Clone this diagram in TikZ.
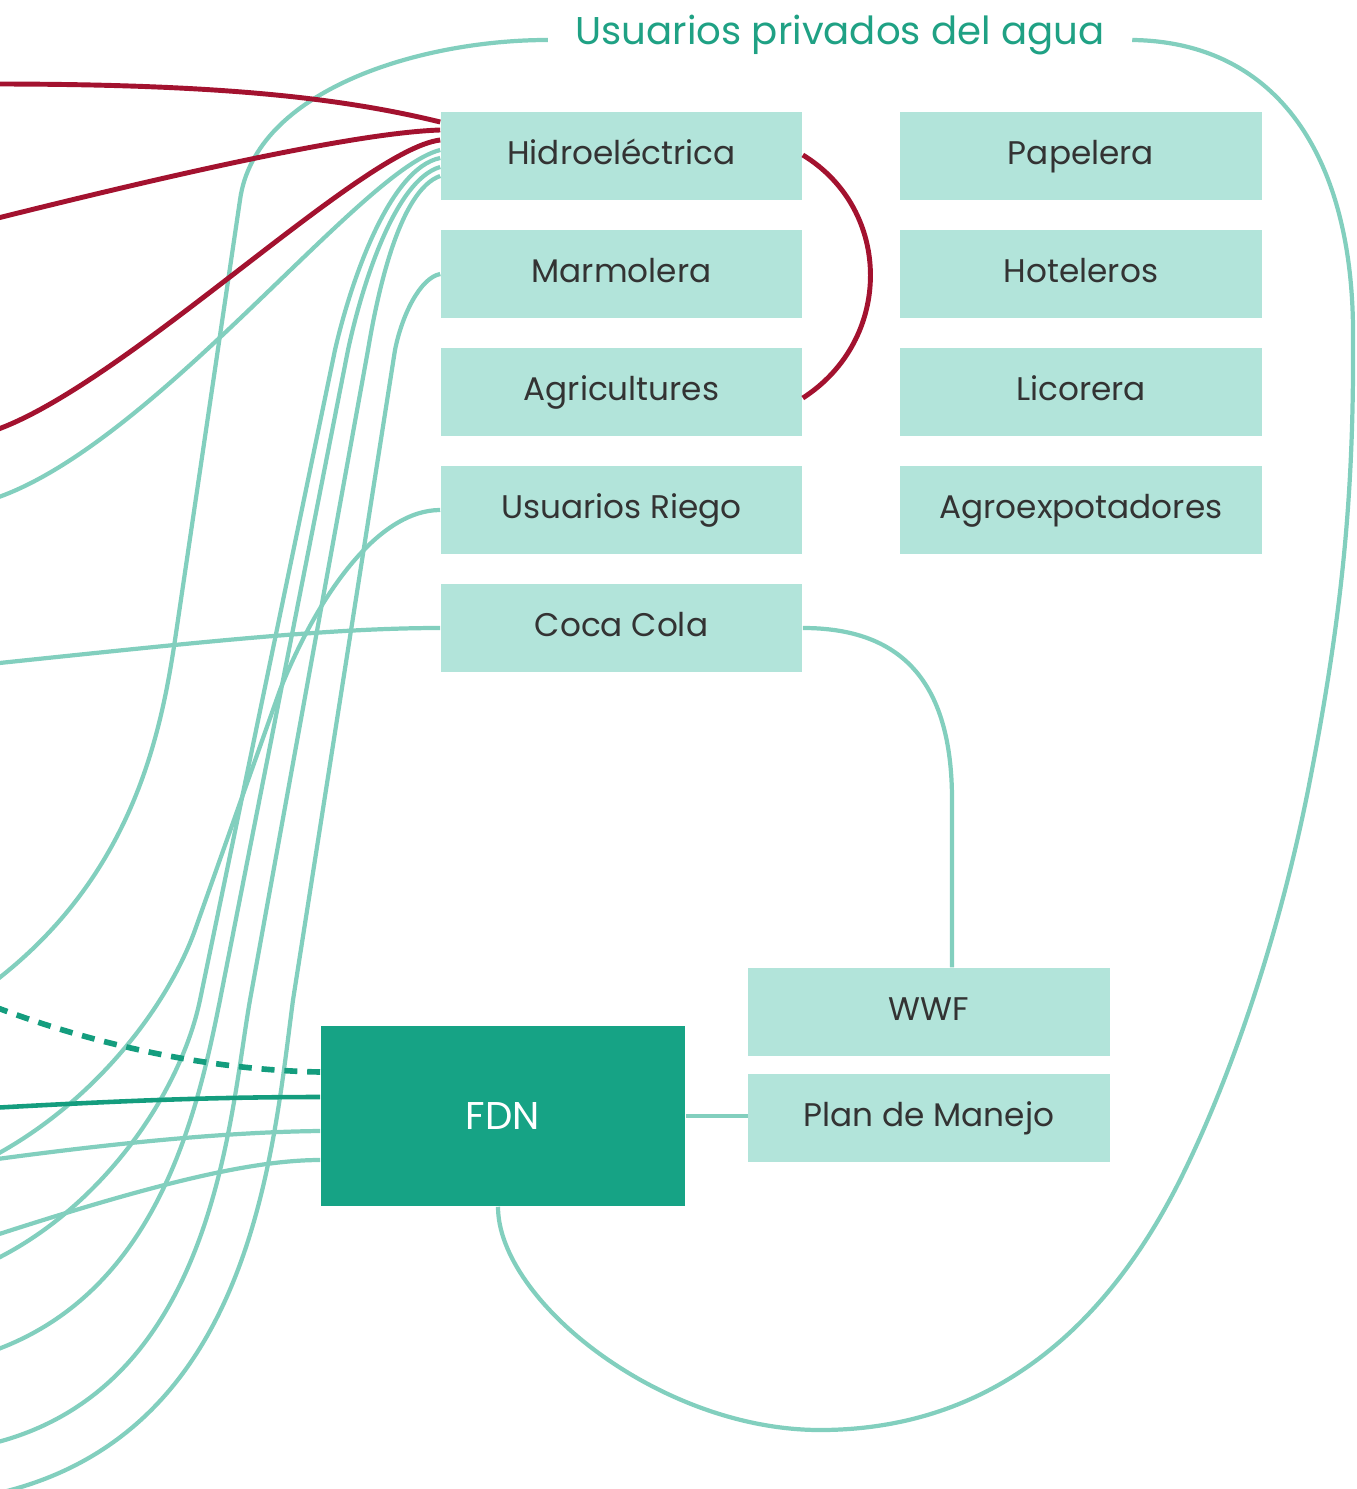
\documentclass[tikz,border=0pt]{standalone}
\usepackage{fontspec}
\setmainfont{Poppins}
\usetikzlibrary{calc}

\definecolor{boxteal}{HTML}{B2E4DA}
\definecolor{fdnteal}{HTML}{16A385}
\definecolor{lineteal}{HTML}{82CFBE}
\definecolor{darkteal}{HTML}{149D7E}
\definecolor{titleteal}{HTML}{1FA184}
\definecolor{linered}{HTML}{A3122F}
\definecolor{labelgray}{HTML}{333333}

\begin{document}
\begin{tikzpicture}[x=0.01cm, y=-0.01cm,
	user/.style={fill=boxteal, minimum width=3.61cm, minimum height=0.88cm, inner sep=0pt, text=labelgray, text height=6.8pt, text depth=2pt, font=\fontsize{9.3}{11}\selectfont},
	fdnbox/.style={fill=fdnteal, minimum width=3.64cm, minimum height=1.8cm, inner sep=0pt, text=white, font=\fontsize{11}{13}\selectfont},
	link/.style={lineteal, line width=1.2pt},
	redlink/.style={linered, line width=1.4pt},
	darklink/.style={darkteal, line width=1.3pt}]

	\useasboundingbox (0,0) rectangle (1356,1489);
	\clip (0,0) rectangle (1356,1489);

	% boxes
	\node[user] (hidro) at (621.5,156) {Hidroeléctrica};
	\node[user] (marm) at (621.5,274) {Marmolera};
	\node[user] (agri) at (621.5,392) {Agricultures};
	\node[user] (riego) at (621.5,510) {Usuarios Riego};
	\node[user] (cola) at (621.5,628) {Coca Cola};
	\node[user] (papel) at (1081,156) {Papelera};
	\node[user] (hotel) at (1081,274) {Hoteleros};
	\node[user] (licor) at (1081,392) {Licorera};
	\node[user] (agroex) at (1081,510) {Agroexpotadores};
	\node[user] (wwf) at (929,1012) {WWF};
	\node[user] (plan) at (929,1118) {Plan de Manejo};
	\node[fdnbox] (fdn) at (503,1116) {FDN};
	% title
	\node[text=titleteal, font=\fontsize{11}{13}\selectfont, inner sep=0pt, inner xsep=0.27cm] (title) at (840,35) {Usuarios privados del agua};

	% loose ends, left border
	\coordinate (w1) at (-10,84);
	\coordinate (w2) at (-10,220);
	\coordinate (w3) at (-10,432);
	\coordinate (w4) at (-10,500);
	\coordinate (w5) at (-10,664);
	\coordinate (w6) at (-10,985);
	\coordinate (w7) at (-10,1005);
	\coordinate (w8) at (-10,1108);
	\coordinate (w9) at (-10,1158);
	\coordinate (w10) at (-10,1160);
	\coordinate (w11) at (-10,1237);
	\coordinate (w12) at (-10,1262);
	\coordinate (w13) at (-10,1352);
	\coordinate (w14) at (-10,1444);
	\coordinate (w15) at (-10,1495);

	% frame
	\draw[link] ($(title.west)+(0,5)$) .. controls (420,40) and (255,90) .. (240,200) -- (175,640) .. controls (160,740) and (130,880) .. (w6);
	\draw[link] ($(title.east)+(0,5)$) .. controls (1280,42) and (1352,160) .. (1353,330) .. controls (1354,480) and (1345,600) .. (1310,780) .. controls (1280,935) and (1230,1080) .. (1180,1180) .. controls (1100,1340) and (980,1430) .. (820,1430) .. controls (660,1430) and (498,1300) .. ($(fdn.south)+(-5,0)$);

	% hidro
	\draw[redlink] ($(hidro.west)+(0,-34)$) .. controls (330,95) and (200,84) .. (w1);
	\draw[redlink] ($(hidro.west)+(0,-26)$) .. controls (350,133) and (150,180) .. (w2);
	\draw[redlink] ($(hidro.west)+(0,-16)$) .. controls (360,150) and (120,390) .. (w3);
	\draw[redlink] ($(hidro.east)+(0,-1)$) .. controls (893,210) and (893,340) .. ($(agri.east)+(0,6)$);
	\draw[link] ($(hidro.west)+(0,-6)$) .. controls (360,170) and (150,450) .. (w4);
	\draw[link] ($(hidro.west)+(0,2)$) .. controls (390,168) and (351,280) .. (335,350) -- (200,1000) .. controls (180,1095) and (100,1210) .. (w12);
	\draw[link] ($(hidro.west)+(0,11)$) .. controls (395,180) and (362,285) .. (348,350) -- (220,1000) .. controls (196,1120) and (155,1295) .. (w13);
	\draw[link] ($(hidro.west)+(0,20)$) .. controls (400,190) and (378,290) .. (368,350) -- (250,1000) .. controls (229,1120) and (215,1390) .. (w14);
	% marm
	\draw[link] (marm.west) .. controls (420,278) and (402,315) .. (395,350) -- (293,1000) .. controls (272,1160) and (250,1440) .. (w15);
	% riego
	\draw[link] (riego.west) .. controls (380,510) and (320,590) .. (280,690) -- (195,930) .. controls (170,1000) and (100,1100) .. (w9);
	% cola
	\draw[link] (cola.west) .. controls (330,628) and (200,642) .. (w5);
	\draw[link] (cola.east) .. controls (900,628) and (952,680) .. (952,800) -- ($(wwf.north)+(23,0)$);

	% fdn
	\draw[darkteal, line width=1.6pt, dash pattern=on 3.7pt off 2.8pt] ($(fdn.west)+(0,-44)$) .. controls (200,1070) and (80,1040) .. (w7);
	\draw[darklink] ($(fdn.west)+(0,-19)$) .. controls (200,1097) and (100,1102) .. (w8);
	\draw[link] ($(fdn.west)+(0,15)$) .. controls (220,1132) and (100,1145) .. (w10);
	\draw[link] ($(fdn.west)+(0,44)$) .. controls (250,1160) and (150,1185) .. (w11);
	\draw[link] (fdn.east) -- (fdn.east -| plan.west);
\end{tikzpicture}
\end{document}
